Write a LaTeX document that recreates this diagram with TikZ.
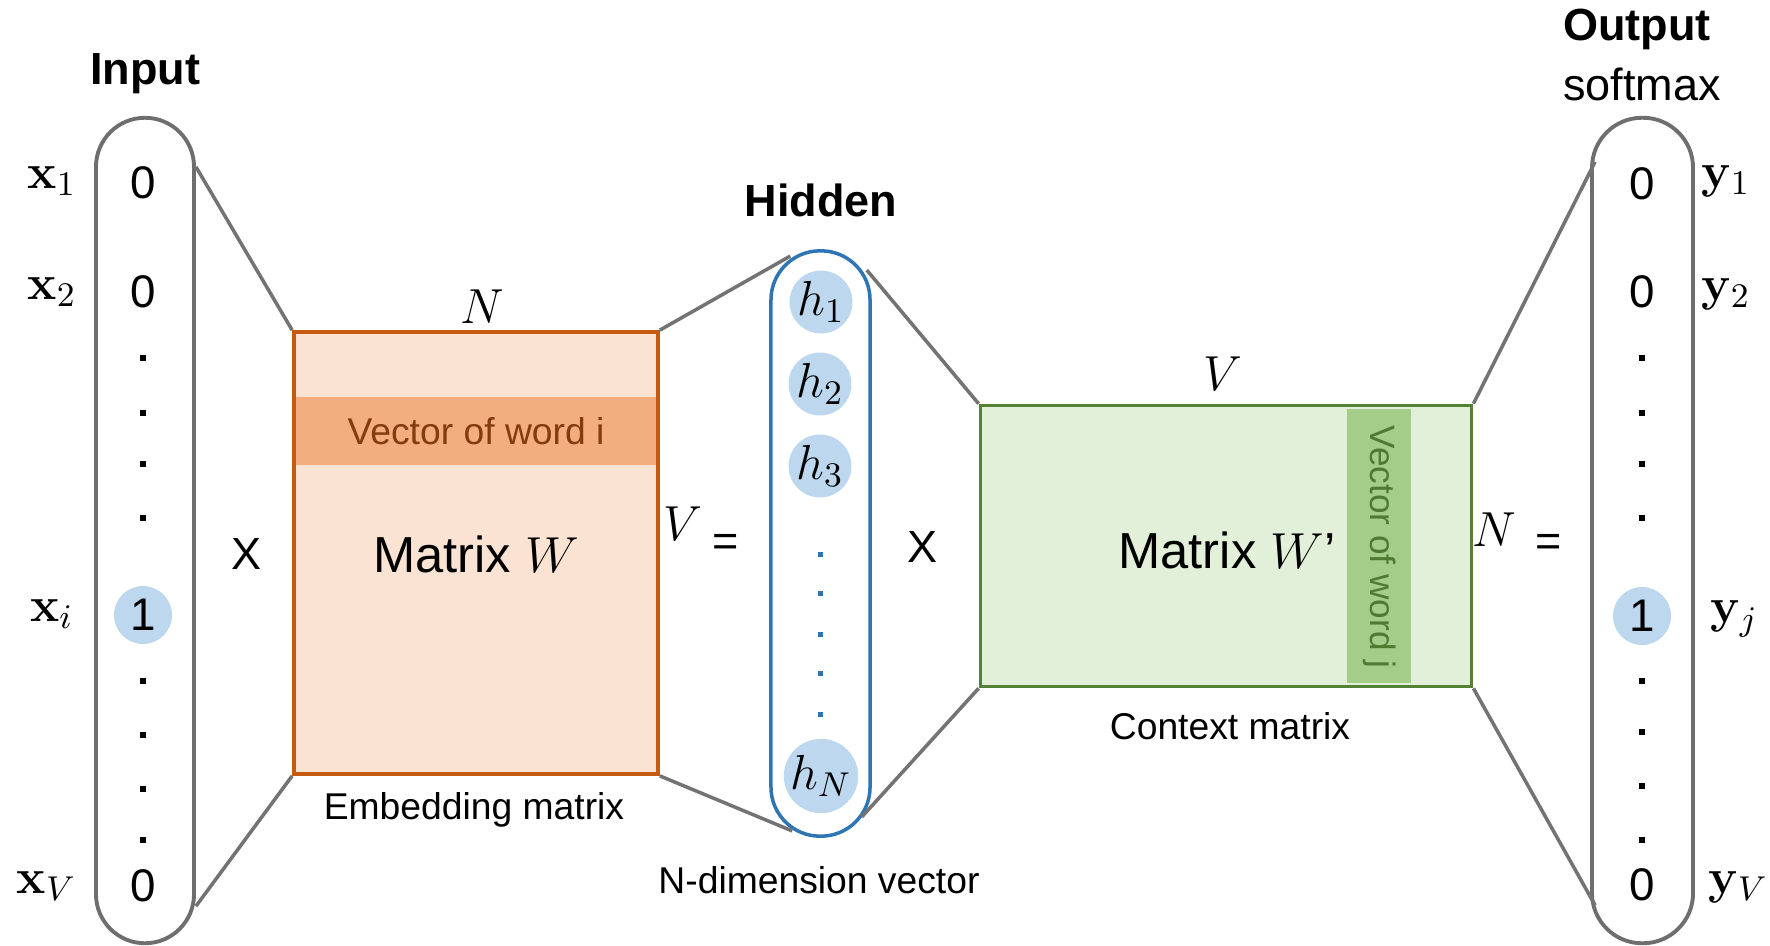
\RequirePackage{fix-cm}
\documentclass[tikz,border=0pt]{standalone}
\usepackage[no-math]{fontspec}
\setmainfont{Liberation Sans}
\usetikzlibrary{positioning}

\definecolor{wedge}{HTML}{C55A11}
\definecolor{wfill}{HTML}{FBE3D3}
\definecolor{wband}{HTML}{F2AE7E}
\definecolor{wtext}{HTML}{843C0C}
\definecolor{cedge}{HTML}{548235}
\definecolor{cfill}{HTML}{E2F0D9}
\definecolor{cband}{HTML}{A3CD88}
\definecolor{ctext}{HTML}{4E7A32}
\definecolor{hedge}{HTML}{2E75B6}
\definecolor{hfill}{HTML}{BDD7EE}
\definecolor{capline}{HTML}{6E6E6E}
\definecolor{gline}{HTML}{737373}

\tikzset{
  capsule/.style={draw=capline, line width=1.1pt, inner sep=0pt},
  link/.style={draw=gline, line width=1pt},
  title/.style={font=\fontsize{12.8}{15}\selectfont\bfseries},
  note/.style={font=\fontsize{10.6}{12}\selectfont},
  big/.style={font=\fontsize{14.4}{17}\selectfont},
  op/.style={font=\fontsize{12.8}{15}\selectfont},
  num/.style={font=\fontsize{13}{15}\selectfont, inner sep=0pt},
  mlab/.style={font=\fontsize{14}{16}\selectfont, inner sep=0pt},
  hot/.style={circle, fill=hfill, minimum size=0.58cm, inner sep=0pt, font=\fontsize{13}{15}\selectfont},
  hnode/.style={circle, fill=hfill, minimum size=0.58cm, inner sep=0pt, font=\fontsize{14}{16}\selectfont},
}

\begin{document}
\begin{tikzpicture}[x=0.01cm, y=-0.01cm]
    \useasboundingbox (0,0) rectangle (1770,945);

    % input one-hot vector
    \node[capsule, minimum width=0.98cm, minimum height=8.25cm, rounded corners=0.49cm] (inp) at (145,530.5) {};
    \node[title] (inptitle) at (145,74) {Input};
    \node[num] (x1v) at (143,183) {0};
    \node[num] (x2v) at (143,292) {0};
    \node[hot] (xiv) at (143,615) {1};
    \node[num] (xVv) at (143,886) {0};
    \foreach \y in {358,413,464,518,681,735,789,840}
        \fill (140,\y-3) rectangle (146,\y+3);
    \node[mlab, anchor=east] (x1) at (77,181) {$\mathbf{x}_1$};
    \node[mlab, anchor=east] (x2) at (77,292) {$\mathbf{x}_2$};
    \node[mlab, anchor=east] (xi) at (74,614) {$\mathbf{x}_i$};
    \node[mlab, anchor=east] (xV) at (77,886) {$\mathbf{x}_V$};

    % embedding matrix
    \node[draw=wedge, fill=wfill, line width=1pt, minimum width=3.64cm, minimum height=4.42cm, inner sep=0pt] (matW) at (476,553) {};
    \node[fill=wband, minimum width=3.60cm, minimum height=0.67cm, inner sep=0pt, text=wtext, note] (bandi) at (476,431) {Vector of word i};
    \node[big] (matWtxt) at (476,554) {Matrix $W$};
    \node[mlab] (matWn) at (482,307) {$N$};
    \node[note] (embtxt) at (474,810) {Embedding matrix};
    \node[op] (times1) at (247,554) {X};
    \draw[link] ([yshift=-0.51cm]inp.north east) -- (matW.north west);
    \draw[link] ([yshift=0.39cm]inp.south east) -- (matW.south west);

    % hidden layer
    \node[draw=hedge, line width=1pt, minimum width=0.99cm, minimum height=5.85cm, inner sep=0pt, rounded corners=0.49cm] (hid) at (820.5,543.5) {};
    \node[title] (hidtitle) at (821,200) {Hidden};
    \node[hnode] (h1) at (821,302) {$h_1$};
    \node[hnode] (h2) at (820,384) {$h_2$};
    \node[hnode] (h3) at (820,466) {$h_3$};
    \node[hnode] (hN) at (821,776) {$h_N$};
    \foreach \y in {554,593,634,673,714}
        \fill[hedge] (818,\y-2.5) rectangle (823,\y+2.5);
    \node[mlab] (hidV) at (683,524) {$V$};
    \node[op] (eq1) at (726,545) {=};
    \node[note] (hidtxt) at (819,880) {N-dimension vector};
    \node[op] (times2) at (922,547) {X};
    \draw[link] (matW.north east) -- ([xshift=0.21cm,yshift=-0.07cm]hid.north west);
    \draw[link] (matW.south east) -- ([xshift=0.23cm,yshift=0.07cm]hid.south west);

    % context matrix
    \node[draw=cedge, fill=cfill, line width=1pt, minimum width=4.91cm, minimum height=2.81cm, inner sep=0pt] (matC) at (1226,546) {};
    \node[fill=cband, minimum width=0.64cm, minimum height=2.74cm, inner sep=0pt] (bandj) at (1379,546) {};
    \node[font=\fontsize{10}{12}\selectfont, text=ctext, rotate=-90] (bandjtxt) at (1380,547) {Vector of word j};
    \node[big] (matCtxt) at (1227,550) {Matrix $W$'};
    \node[mlab] (matCv) at (1223,374) {$V$};
    \node[note] (ctxtxt) at (1230,726) {Context matrix};
    \draw[link] ([xshift=-0.05cm,yshift=-0.21cm]hid.north east) -- (matC.north west);
    \draw[link] ([xshift=-0.10cm,yshift=0.21cm]hid.south east) -- (matC.south west);

    % output softmax vector
    \node[capsule, minimum width=1.01cm, minimum height=8.25cm, rounded corners=0.5cm] (out) at (1642.5,530.5) {};
    \node[title] (outtitle) at (1637,29) {Output};
    \node[op] (outsoft) at (1642,84) {softmax};
    \node[num] (y1v) at (1642,184) {0};
    \node[num] (y2v) at (1642,292) {0};
    \node[hot] (yjv) at (1642,616) {1};
    \node[num] (yVv) at (1642,885) {0};
    \foreach \y in {358,413,464,518,681,732,786,840}
        \fill (1639,\y-3) rectangle (1645,\y+3);
    \node[mlab, anchor=west] (y1) at (1701,181) {$\mathbf{y}_1$};
    \node[mlab, anchor=west] (y2) at (1701,294) {$\mathbf{y}_2$};
    \node[mlab, anchor=west] (yj) at (1710,619) {$\mathbf{y}_j$};
    \node[mlab, anchor=west] (yV) at (1708,887) {$\mathbf{y}_V$};
    \node[mlab] (outN) at (1494,530) {$N$};
    \node[op] (eq2) at (1549,545) {=};
    \draw[link] (matC.north east) -- ([xshift=0.05cm,yshift=-0.46cm]out.north west);
    \draw[link] (matC.south east) -- ([xshift=0.05cm,yshift=0.40cm]out.south west);
\end{tikzpicture}
\end{document}
